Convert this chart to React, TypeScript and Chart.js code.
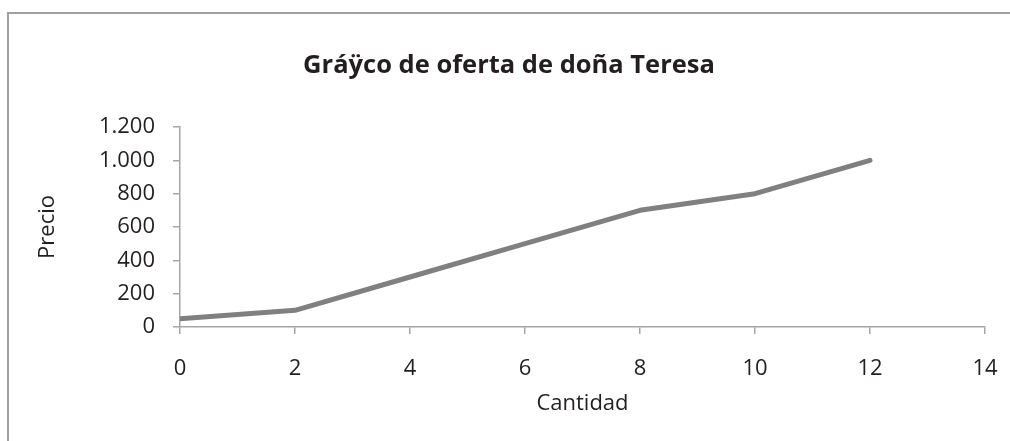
import React, { useEffect, useRef } from "react";
import { Chart, registerables } from "chart.js";

Chart.register(...registerables);

const TITLE = "Gráÿco de oferta de doña Teresa";
const X_TITLE = "Cantidad";
const Y_TITLE = "Precio";
const quantities = [0, 2, 4, 6, 8, 10, 12];
const prices = [50, 100, 300, 500, 700, 800, 1000];
const X_MIN = 0, X_MAX = 14, X_STEP = 2;
const Y_MIN = 0, Y_MAX = 1200, Y_STEP = 200;

const FONT = "'Open Sans', 'Noto Sans', sans-serif";
const TEXT = "#231f20";
const AXIS = "#a6a6a6";

const fmt = (v: number) => String(v).replace(/\B(?=(\d{3})+(?!\d))/g, ".");

const framePlugin = {
  id: "frame",
  beforeDraw(chart: any) {
    const { ctx, width, height } = chart;
    ctx.save();
    ctx.fillStyle = "#ffffff";
    ctx.fillRect(0, 0, width, height);
    ctx.strokeStyle = "#a0a0a0";
    ctx.lineWidth = 2;
    ctx.beginPath();
    ctx.moveTo(8, height);
    ctx.lineTo(8, 13);
    ctx.lineTo(width, 13);
    ctx.stroke();
    ctx.restore();
  },
};

export default function App() {
  const ref = useRef<HTMLCanvasElement | null>(null);
  useEffect(() => {
    document.body.style.margin = "0";
    if (!ref.current) return;
    const chart = new Chart(ref.current, {
      type: "line",
      data: {
        datasets: [
          {
            data: quantities.map((q, i) => ({ x: q, y: prices[i] })),
            borderColor: "#808080",
            borderWidth: 5,
            pointRadius: 0,
            borderCapStyle: "round",
            borderJoinStyle: "round",
            tension: 0,
          },
        ],
      },
      options: {
        responsive: false,
        animation: false,
        layout: { padding: { left: 33, right: 25, top: 0, bottom: 0 } },
        plugins: {
          legend: { display: false },
          tooltip: { enabled: false },
          title: {
            display: true,
            text: TITLE,
            color: TEXT,
            font: { family: FONT, size: 25.5, weight: "bold" },
            padding: { top: 50.7, bottom: 45.7 },
          },
        },
        scales: {
          x: {
            type: "linear",
            min: X_MIN,
            max: X_MAX,
            ticks: { stepSize: X_STEP, color: TEXT, font: { family: FONT, size: 22 }, padding: 22, maxRotation: 0 },
            grid: { display: true, drawOnChartArea: false, drawTicks: true, tickLength: 7, color: AXIS, lineWidth: 1.5 },
            border: { display: true, color: AXIS, width: 1.5 },
            title: { display: true, text: X_TITLE, color: TEXT, font: { family: FONT, size: 22 }, padding: { top: 0, bottom: 24 } },
            afterFit: (s: any) => {
              s.height = 114;
              s.paddingRight = 12;
            },
          },
          y: {
            type: "linear",
            min: Y_MIN,
            max: Y_MAX,
            ticks: { stepSize: Y_STEP, color: TEXT, font: { family: FONT, size: 22 }, padding: 18, callback: (v: any) => fmt(Number(v)) },
            grid: { display: true, drawOnChartArea: false, drawTicks: true, tickLength: 7, color: AXIS, lineWidth: 1.5 },
            border: { display: true, color: AXIS, width: 1.5 },
            title: { display: true, text: Y_TITLE, color: TEXT, font: { family: FONT, size: 22 }, padding: { top: 2, bottom: 0 } },
            afterFit: (s: any) => { s.width = 147; },
          },
        },
      },
      plugins: [framePlugin],
    } as any);
    return () => chart.destroy();
  }, []);
  return (
    <div style={{ width: 1010, height: 441 }}>
      <canvas ref={ref} width={1010} height={441} style={{ display: "block" }} />
    </div>
  );
}
